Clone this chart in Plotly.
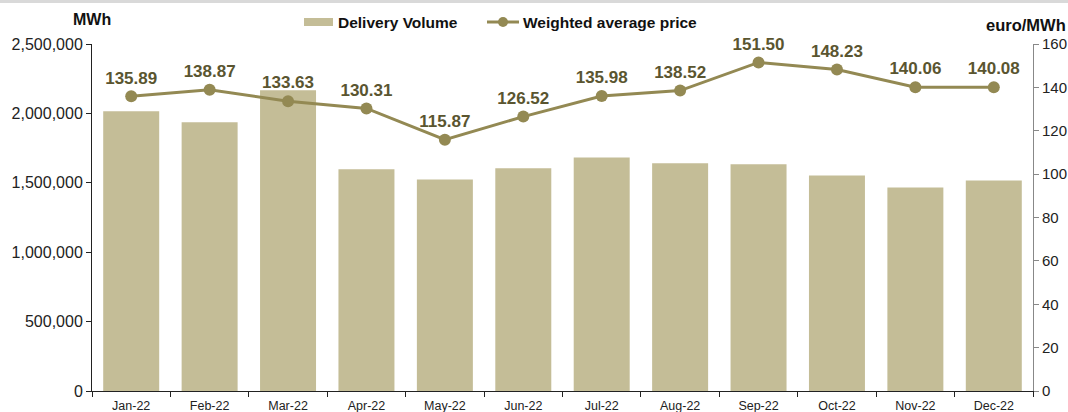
import plotly.graph_objects as go

months = ["Jan-22", "Feb-22", "Mar-22", "Apr-22", "May-22", "Jun-22",
          "Jul-22", "Aug-22", "Sep-22", "Oct-22", "Nov-22", "Dec-22"]
volume = [2015000, 1936000, 2167000, 1597000, 1524000, 1604000,
          1683000, 1640000, 1633000, 1553000, 1467000, 1517000]
price = [135.89, 138.87, 133.63, 130.31, 115.87, 126.52,
         135.98, 138.52, 151.50, 148.23, 140.06, 140.08]
left_ticks = [0, 500000, 1000000, 1500000, 2000000, 2500000]
right_ticks = [0, 20, 40, 60, 80, 100, 120, 140, 160]

BAR = "#C4BD97"
LINE = "#938953"
LBL = "#5A5530"

W, H = 1068, 412
ML, MR, MT, MB = 92, 35, 44, 21
PW, PH = W - ML - MR, H - MT - MB


def px(x):  # pixel x -> paper
    return (x - ML) / PW


def py(y):  # pixel y -> paper
    return (H - MB - y) / PH


fig = go.Figure()
fig.add_trace(go.Bar(x=months, y=volume, name="Delivery Volume",
                     marker=dict(color=BAR, line=dict(width=0)), yaxis="y"))
fig.add_trace(go.Scatter(x=months, y=price, name="Weighted average price",
                         mode="lines+markers+text", yaxis="y2",
                         line=dict(color=LINE, width=3),
                         marker=dict(color=LINE, size=12),
                         text=[f"{p:.2f}" for p in price],
                         textposition="top center", cliponaxis=False,
                         textfont=dict(family="Arial", size=17, color=LBL, weight="bold")))

fig.update_layout(
    width=W, height=H,
    margin=dict(l=ML, r=MR, t=MT, b=MB, autoexpand=False),
    paper_bgcolor="white", plot_bgcolor="white",
    bargap=0.286,
    font=dict(family="Arial", color="#222"),
    showlegend=False,
    xaxis=dict(range=[-0.5, 11.5], showgrid=False, showline=True, linecolor="#222", linewidth=1,
               ticks="outside", ticklen=5, tickcolor="#222", automargin=False,
               tickson="boundaries", ticklabelstandoff=3,
               tickfont=dict(size=12.5, color="#222")),
    yaxis=dict(range=[0, 2500000], tickvals=left_ticks, automargin=False,
               ticktext=[f"{v:,}" for v in left_ticks],
               showgrid=False, showline=True, linecolor="#222", linewidth=1,
               ticks="outside", ticklen=5, tickcolor="#222",
               tickfont=dict(size=16, color="#222"), zeroline=False),
    yaxis2=dict(range=[0, 160], tickvals=right_ticks, overlaying="y", side="right",
                showgrid=False, showline=True, linecolor="#888", linewidth=1,
                ticks="outside", ticklen=5, tickcolor="#888", automargin=False,
                tickfont=dict(size=15, color="#222"), zeroline=False),
    annotations=[
        dict(text="<b>MWh</b>", xref="paper", yref="paper", x=px(92), y=py(20),
             xanchor="center", yanchor="middle", showarrow=False,
             font=dict(size=16, color="#111")),
        dict(text="<b>euro/MWh</b>", xref="paper", yref="paper", x=px(1026), y=py(25),
             xanchor="center", yanchor="middle", showarrow=False,
             font=dict(size=16.5, color="#111")),
        dict(text="<b>Delivery Volume</b>", xref="paper", yref="paper", x=px(336), y=py(22),
             xanchor="left", yanchor="middle", showarrow=False,
             font=dict(size=15.5, color="#111")),
        dict(text="<b>Weighted average price</b>", xref="paper", yref="paper", x=px(521), y=py(22),
             xanchor="left", yanchor="middle", showarrow=False,
             font=dict(size=15.5, color="#111")),
    ],
)
# top grey rule
fig.add_shape(type="rect", xref="paper", yref="paper", x0=px(-10), x1=px(W + 10),
              y0=py(3), y1=py(-2), fillcolor="#D9D9D9", line=dict(width=0))
# legend swatches
fig.add_shape(type="rect", xref="paper", yref="paper", x0=px(304), x1=px(333),
              y0=py(26), y1=py(18), fillcolor=BAR, line=dict(width=0))
fig.add_shape(type="line", xref="paper", yref="paper", x0=px(487), x1=px(519),
              y0=py(22), y1=py(22), line=dict(color=LINE, width=3))
fig.add_shape(type="circle", xref="paper", yref="paper", x0=px(498), x1=px(508),
              y0=py(27), y1=py(17), fillcolor=LINE, line=dict(width=0))
fig.write_html("out.html", config={"displayModeBar": False},
               post_script="document.body.style.margin='0';document.body.style.overflow='hidden';")
